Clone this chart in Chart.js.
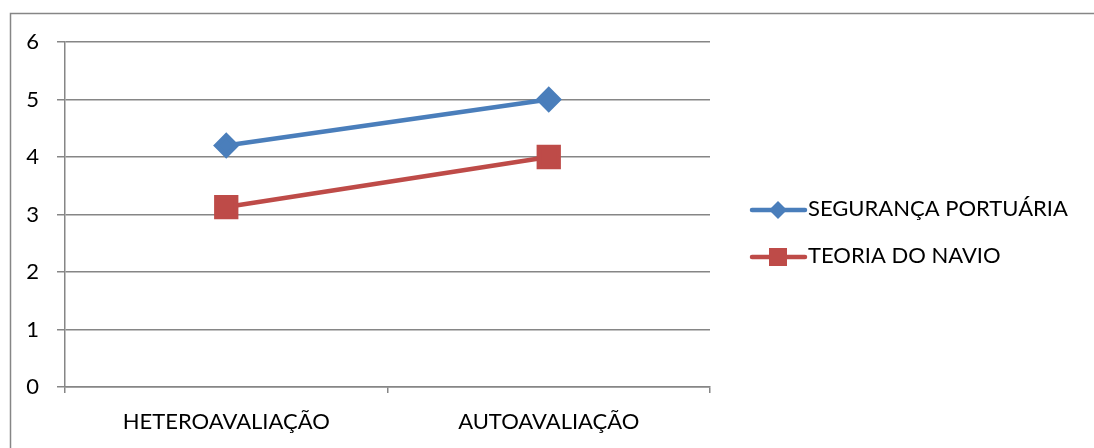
<!DOCTYPE html>
<html>
<head>
<meta charset="utf-8">
<script src="https://cdn.jsdelivr.net/npm/chart.js@4/dist/chart.umd.min.js"></script>
<style>
  html, body { margin: 0; padding: 0; background: #fff; }
  #wrap { width: 1094px; height: 448px; position: relative; }
</style>
</head>
<body>
<div id="wrap"><canvas id="line_chart"></canvas></div>
<script>
const categories = ['HETEROAVALIAÇÃO', 'AUTOAVALIAÇÃO']
const seguranca_values = [4.2, 5]
const teoria_values = [3.13, 4]
const series_names = ['SEGURANÇA PORTUÁRIA', 'TEORIA DO NAVIO']
const y_ticks = [0, 1, 2, 3, 4, 5, 6]

const blue = '#4A7EBB'
const red = '#BE4B48'
const grey = '#868686'
const font_family = 'Lato, "Open Sans", sans-serif'
const font_size = 22

// frame + legend with line and marker, like the office chart
const frame_legend = {
    id: 'frame_legend',
    beforeDraw(chart) {
        const ctx = chart.ctx
        ctx.save()
        ctx.strokeStyle = grey
        ctx.lineWidth = 1.5
        ctx.strokeRect(10.5, 13.5, 1200, 600)
        ctx.restore()
    },
    afterDraw(chart) {
        const ctx = chart.ctx
        const rows = [210, 257]
        chart.data.datasets.forEach((ds, i) => {
            const y = rows[i]
            ctx.save()
            ctx.strokeStyle = ds.borderColor
            ctx.lineWidth = 4.5
            ctx.lineCap = 'round'
            ctx.beginPath()
            ctx.moveTo(752, y)
            ctx.lineTo(805, y)
            ctx.stroke()
            ctx.fillStyle = ds.borderColor
            if (ds.pointStyle === 'rectRot') {
                ctx.beginPath()
                ctx.moveTo(778, y - 9)
                ctx.lineTo(787, y)
                ctx.lineTo(778, y + 9)
                ctx.lineTo(769, y)
                ctx.closePath()
                ctx.fill()
            } else {
                ctx.fillRect(769, y - 9, 18, 18)
            }
            ctx.fillStyle = '#000'
            ctx.font = font_size + 'px ' + font_family
            ctx.textBaseline = 'alphabetic'
            ctx.fillText(ds.label, 808, y + 6)
            ctx.restore()
        })
    }
}

new Chart(document.querySelector('#line_chart'), {
    type: 'line',
    data: {
        labels: categories,
        datasets: [{
            label: series_names[0],
            data: seguranca_values,
            borderColor: blue,
            backgroundColor: blue,
            borderWidth: 4.5,
            pointStyle: 'rectRot',
            pointRadius: 10,
            pointHoverRadius: 10
        }, {
            label: series_names[1],
            data: teoria_values,
            borderColor: red,
            backgroundColor: red,
            borderWidth: 4.5,
            pointStyle: 'rect',
            pointRadius: 14,
            pointHoverRadius: 14
        }]
    },
    options: {
        responsive: true,
        maintainAspectRatio: false,
        animation: false,
        layout: {
            padding: { left: 0, top: 42, right: 384, bottom: 0 }
        },
        plugins: {
            legend: false,
            tooltip: { enabled: false }
        },
        scales: {
            x: {
                offset: true,
                afterFit: s => { s.height = 61 },
                grid: {
                    offset: true,
                    drawOnChartArea: false,
                    color: grey,
                    lineWidth: 1.5,
                    tickLength: 6
                },
                border: { color: grey, width: 1.5 },
                ticks: {
                    color: '#000',
                    padding: 16,
                    font: { family: font_family, size: font_size }
                }
            },
            y: {
                min: 0,
                max: 6,
                afterFit: s => { s.width = 65 },
                afterBuildTicks: s => { s.ticks = y_ticks.map(v => ({ value: v })) },
                grid: {
                    color: grey,
                    lineWidth: 1.5,
                    tickLength: 8
                },
                border: { color: grey, width: 1.5 },
                ticks: {
                    color: '#000',
                    padding: 18,
                    font: { family: font_family, size: font_size }
                }
            }
        }
    },
    plugins: [frame_legend]
})
</script>
</body>
</html>
